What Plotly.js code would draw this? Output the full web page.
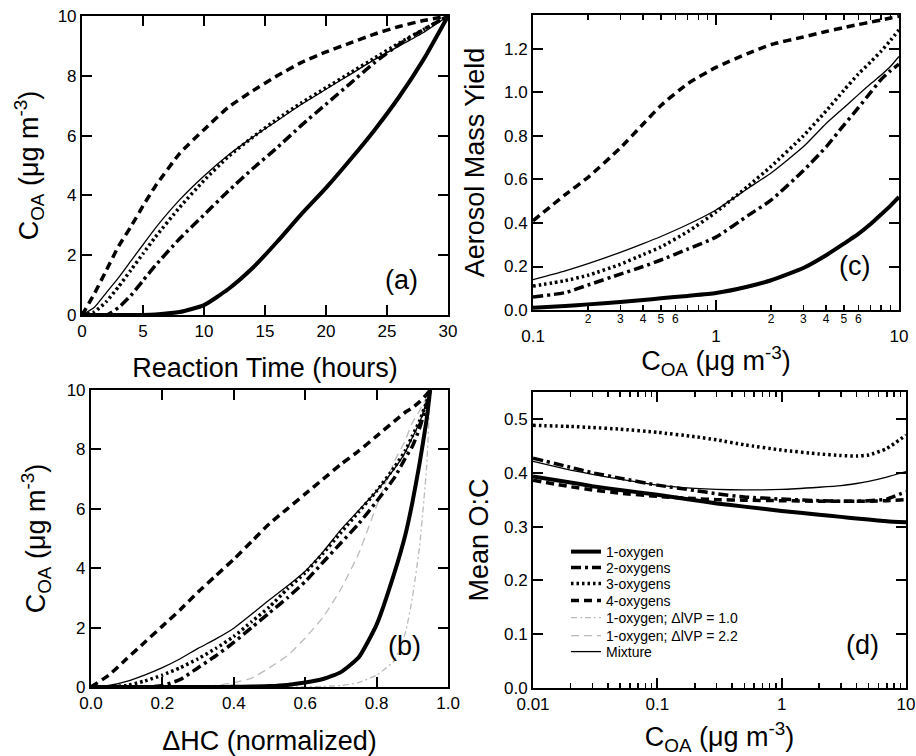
<!DOCTYPE html>
<html>
<head>
<meta charset="utf-8">
<script src="https://cdn.plot.ly/plotly-3.0.1.min.js"></script>
<style>html,body{margin:0;padding:0;background:#fff;}#chart{width:916px;height:756px;}</style>
</head>
<body>
<div id="chart"></div>
<script>
// ---------- Panel (a): C_OA vs reaction time ----------
const timeHours = [0,1,2,3,4,5,6,8,10,12,14,16,18,20,22,24,26,28,30];
const a_oxy1   = [0,0,0,0,0,0.003,0.02,0.1,0.33,0.87,1.58,2.45,3.38,4.25,5.2,6.2,7.3,8.55,10];
const a_oxy2   = [0,0,0,0.25,0.65,1.15,1.65,2.55,3.35,4.15,4.9,5.6,6.35,7.05,7.75,8.45,9.05,9.55,10];
const a_oxy3   = [0,0.1,0.45,0.95,1.5,2.05,2.6,3.6,4.5,5.3,5.95,6.55,7.1,7.6,8.1,8.6,9.1,9.55,10];
const a_oxy4   = [0,0.7,1.5,2.3,2.95,3.65,4.3,5.4,6.2,6.95,7.5,8.0,8.45,8.8,9.1,9.4,9.65,9.85,10];
const a_mix    = [0,0.25,0.75,1.25,1.8,2.35,2.9,3.85,4.65,5.35,5.95,6.5,7.05,7.55,8.05,8.55,9.0,9.45,10];

// ---------- Panel (b): C_OA vs normalized ΔHC ----------
const dHC      = [0,0.05,0.1,0.15,0.2,0.25,0.3,0.35,0.4,0.45,0.5,0.55,0.6,0.65,0.7,0.75,0.8,0.85,0.88,0.9,0.92,0.94,0.95];
const b_oxy1   = [0,0,0,0,0,0,0,0,0.005,0.015,0.03,0.07,0.15,0.27,0.5,1.0,2.1,3.85,5.1,6.2,7.5,9.0,10];
const b_oxy2   = [0,0,0,0,0.05,0.25,0.65,1.05,1.5,2.0,2.5,3.0,3.55,4.2,4.85,5.5,6.25,7.05,7.7,8.1,8.7,9.5,10];
const b_oxy3   = [0,0,0.05,0.2,0.4,0.65,0.95,1.3,1.7,2.2,2.7,3.3,3.85,4.5,5.2,5.9,6.6,7.4,7.95,8.45,8.95,9.6,10];
const b_oxy4   = [0,0.4,0.95,1.5,2.05,2.6,3.2,3.75,4.3,4.9,5.5,6.0,6.5,7.0,7.5,7.95,8.45,8.95,9.25,9.4,9.6,9.85,10];
const b_vp10   = [0,0,0,0,0,0,0,0,0,0,0,0,0.01,0.02,0.05,0.15,0.4,0.9,1.8,3.0,4.7,7.4,10];
const b_vp22   = [0,0,0,0,0,0,0.01,0.05,0.15,0.3,0.65,1.05,1.65,2.35,3.3,4.5,6.1,7.6,8.3,8.9,9.3,9.75,10];
const b_mix    = [0,0.05,0.19,0.4,0.65,0.95,1.3,1.62,1.98,2.45,2.94,3.4,3.9,4.55,5.3,5.95,6.6,7.35,7.9,8.4,8.9,9.6,10];

// ---------- Panel (c): aerosol mass yield vs C_OA ----------
const c_coa    = [0.1,0.15,0.2,0.3,0.4,0.5,0.7,1,1.5,2,3,4,5,6,7,8,9,10];
const c_oxy1   = [0.01,0.018,0.026,0.037,0.046,0.054,0.065,0.078,0.108,0.137,0.193,0.252,0.305,0.35,0.395,0.44,0.48,0.52];
const c_oxy2   = [0.06,0.08,0.115,0.165,0.2,0.23,0.28,0.335,0.435,0.505,0.64,0.75,0.85,0.93,1.0,1.06,1.1,1.13];
const c_oxy3   = [0.11,0.135,0.16,0.21,0.255,0.29,0.36,0.45,0.57,0.66,0.8,0.915,1.01,1.085,1.14,1.19,1.24,1.287];
const c_oxy4   = [0.41,0.53,0.61,0.745,0.855,0.94,1.04,1.115,1.18,1.22,1.255,1.28,1.298,1.312,1.323,1.333,1.342,1.35];
const c_mix    = [0.14,0.18,0.213,0.265,0.305,0.338,0.393,0.46,0.56,0.63,0.75,0.857,0.93,0.99,1.04,1.08,1.12,1.165];

// ---------- Panel (d): mean O:C vs C_OA ----------
const d_coa    = [0.01,0.02,0.03,0.05,0.1,0.2,0.3,0.5,1,2,3,4,5,7,10];
const d_oxy1   = [0.393,0.382,0.375,0.368,0.359,0.349,0.343,0.337,0.329,0.322,0.318,0.315,0.313,0.31,0.308];
const d_oxy2   = [0.427,0.41,0.4,0.39,0.377,0.367,0.361,0.355,0.351,0.348,0.347,0.347,0.348,0.351,0.365];
const d_oxy3   = [0.488,0.486,0.484,0.481,0.475,0.467,0.461,0.452,0.442,0.435,0.432,0.431,0.433,0.445,0.47];
const d_oxy4   = [0.386,0.374,0.368,0.362,0.356,0.352,0.35,0.349,0.348,0.347,0.347,0.347,0.347,0.348,0.35];
const d_mix    = [0.421,0.405,0.397,0.388,0.377,0.371,0.369,0.368,0.369,0.373,0.376,0.38,0.384,0.392,0.402];

// ---------- tick labels ----------
const aTicks = [0,5,10,15,20,25,30];
const bTicks = [0,0.2,0.4,0.6,0.8,1.0];
const cozTicks = [0,2,4,6,8,10];
const yieldTicks = [0,0.2,0.4,0.6,0.8,1.0,1.2];
const ocTicks = [0,0.1,0.2,0.3,0.4,0.5];
const cMajorVals = [0.1,1,10];
const cMajorText = ['0.1','1','10'];
const cMinorVals = [0.2,0.3,0.4,0.5,0.6,2,3,4,5,6];
const cMinorText = ['2','3','4','5','6','2','3','4','5','6'];
const cMinorTicks = [0.2,0.3,0.4,0.5,0.6,0.7,0.8,0.9,2,3,4,5,6,7,8,9];
const dMajorVals = [0.01,0.1,1,10];
const dMajorText = ['0.01','0.1','1','10'];
const dMinorTicks = [0.02,0.03,0.04,0.05,0.06,0.07,0.08,0.09,0.2,0.3,0.4,0.5,0.6,0.7,0.8,0.9,2,3,4,5,6,7,8,9];

const names = ['1-oxygen','2-oxygens','3-oxygens','4-oxygens','1-oxygen; ΔlVP = 1.0','1-oxygen; ΔlVP = 2.2','Mixture'];
const legendIds = ['legend','legend2','legend3','legend4','legend5','legend6','legend7'];

const styles = {
  oxy1: {color:'#000', width:4, dash:'solid'},
  oxy2: {color:'#000', width:3.5, dash:'10px,4px,3px,4px'},
  oxy3: {color:'#000', width:3.5, dash:'2.5px,3px'},
  oxy4: {color:'#000', width:3.5, dash:'8px,5px'},
  vp10: {color:'#bbbbbb', width:1.3, dash:'6px,3px,2px,3px'},
  vp22: {color:'#bbbbbb', width:1.3, dash:'8px,5px'},
  mix:  {color:'#000', width:1.3, dash:'solid'}
};

function tr(x, y, key, idx, xa, ya, legend) {
  return {x:x, y:y, type:'scatter', mode:'lines', name:names[idx], xaxis:xa, yaxis:ya,
          legend:legendIds[idx],
          line:Object.assign({shape:'spline', smoothing:0.5}, styles[key]),
          showlegend:!!legend, hoverinfo:'skip'};
}

const data = [
  tr(timeHours,a_oxy1,'oxy1',0,'x','y'),
  tr(timeHours,a_oxy2,'oxy2',1,'x','y'),
  tr(timeHours,a_oxy3,'oxy3',2,'x','y'),
  tr(timeHours,a_oxy4,'oxy4',3,'x','y'),
  tr(timeHours,a_mix,'mix',6,'x','y'),

  tr(dHC,b_vp10,'vp10',4,'x2','y2',true),
  tr(dHC,b_vp22,'vp22',5,'x2','y2',true),
  tr(dHC,b_oxy1,'oxy1',0,'x2','y2',true),
  tr(dHC,b_oxy2,'oxy2',1,'x2','y2',true),
  tr(dHC,b_oxy3,'oxy3',2,'x2','y2',true),
  tr(dHC,b_oxy4,'oxy4',3,'x2','y2',true),
  tr(dHC,b_mix,'mix',6,'x2','y2',true),

  tr(c_coa,c_oxy1,'oxy1',0,'x5','y3'),
  tr(c_coa,c_oxy2,'oxy2',1,'x3','y3'),
  tr(c_coa,c_oxy3,'oxy3',2,'x3','y3'),
  tr(c_coa,c_oxy4,'oxy4',3,'x3','y3'),
  tr(c_coa,c_mix,'mix',6,'x3','y3'),

  tr(d_coa,d_oxy1,'oxy1',0,'x4','y4'),
  tr(d_coa,d_oxy2,'oxy2',1,'x4','y4'),
  tr(d_coa,d_oxy3,'oxy3',2,'x4','y4'),
  tr(d_coa,d_oxy4,'oxy4',3,'x4','y4'),
  tr(d_coa,d_mix,'mix',6,'x4','y4')
];

const FONT = 'Liberation Sans, Arial, sans-serif';
const tickFont = {family:FONT, size:17, color:'#000'};
const titleFont = {family:FONT, size:27, color:'#000'};
const coaTitle = 'C<sub>OA</sub> (μg m<sup>-3</sup>)';

function ax(extra) {
  return Object.assign({
    showline:true, linecolor:'#000', linewidth:2, mirror:'ticks',
    ticks:'inside', ticklen:10, tickwidth:2, tickcolor:'#000',
    showgrid:false, zeroline:false, tickfont:tickFont, automargin:false
  }, extra);
}
function minorTicks(vals) {
  return {tickmode:'array', tickvals:vals, ticks:'inside', ticklen:5, tickwidth:1.5, tickcolor:'#000', showgrid:false};
}

// legend row centres (pixels from top) for the seven entries
const legendRows = [552, 568, 584, 601, 618, 636, 652];

const layout = {
  width:916, height:756,
  margin:{l:0, r:0, t:0, b:0},
  paper_bgcolor:'#fff', plot_bgcolor:'#fff',
  font:{family:FONT, color:'#000'},
  showlegend:true,
  xaxis: ax({domain:[0.0895,0.4891], anchor:'y', range:[0,30], tickmode:'array', tickvals:aTicks,
             title:{text:'Reaction Time (hours)', font:titleFont, standoff:18}}),
  yaxis: ax({domain:[0.5833,0.9788], anchor:'x', range:[0,10], tickmode:'array', tickvals:cozTicks,
             title:{text:coaTitle, font:titleFont, standoff:11}}),
  xaxis2: ax({domain:[0.0993,0.4891], anchor:'y2', range:[0,1], tickmode:'array', tickvals:bTicks, tickformat:'.1f',
             title:{text:'ΔHC (normalized)', font:titleFont, standoff:19}}),
  yaxis2: ax({domain:[0.0913,0.4841], anchor:'x2', range:[0,10], tickmode:'array', tickvals:cozTicks,
             title:{text:coaTitle, font:titleFont, standoff:13}}),
  xaxis3: ax({domain:[0.5819,0.9814], anchor:'y3', type:'log', range:[-1,1], tickmode:'array',
             tickvals:cMajorVals, ticktext:cMajorText, ticklabelstandoff:10,
             minor:minorTicks(cMinorTicks)}),
  xaxis5: {domain:[0.5819,0.9814], anchor:'y3', overlaying:'x3', type:'log', range:[-1,1], tickmode:'array',
             tickvals:cMinorVals, ticktext:cMinorText, ticks:'', showline:false, showgrid:false, zeroline:false,
             tickfont:{family:FONT, size:12, color:'#000'}, side:'bottom', automargin:false,
             title:{text:coaTitle, font:titleFont, standoff:26}},
  yaxis3: ax({domain:[0.5899,0.9802], anchor:'x3', range:[0,1.356], tickmode:'array', tickvals:yieldTicks, tickformat:'.1f',
             title:{text:'Aerosol Mass Yield', font:titleFont, standoff:12}}),
  xaxis4: ax({domain:[0.5819,0.9891], anchor:'y4', type:'log', range:[-2,1], tickmode:'array',
             tickvals:dMajorVals, ticktext:dMajorText,
             minor:minorTicks(dMinorTicks),
             title:{text:coaTitle, font:titleFont, standoff:17}}),
  yaxis4: ax({domain:[0.0899,0.4815], anchor:'x4', range:[0,0.55], tickmode:'array', tickvals:ocTicks, tickformat:'.1f',
             title:{text:'Mean O:C', font:titleFont, standoff:8}}),
  annotations:[
    {text:'(a)', xref:'x domain', yref:'y domain', x:0.923, y:0.06, showarrow:false, font:titleFont},
    {text:'(b)', xref:'x2 domain', yref:'y2 domain', x:0.93, y:0.081, showarrow:false, font:titleFont},
    {text:'(c)', xref:'x3 domain', yref:'y3 domain', x:0.926, y:0.092, showarrow:false, font:titleFont},
    {text:'(d)', xref:'x4 domain', yref:'y4 domain', x:0.933, y:0.088, showarrow:false, font:titleFont}
  ]
};
legendIds.forEach(function(id, i) {
  layout[id] = {x:566/916, y:1 - legendRows[i]/756, xanchor:'left', yanchor:'middle',
                bgcolor:'rgba(0,0,0,0)', borderwidth:0,
                font:{family:FONT, size:14, color:'#000'}};
});

Plotly.newPlot('chart', data, layout, {staticPlot:true, displayModeBar:false});
</script>
</body>
</html>
